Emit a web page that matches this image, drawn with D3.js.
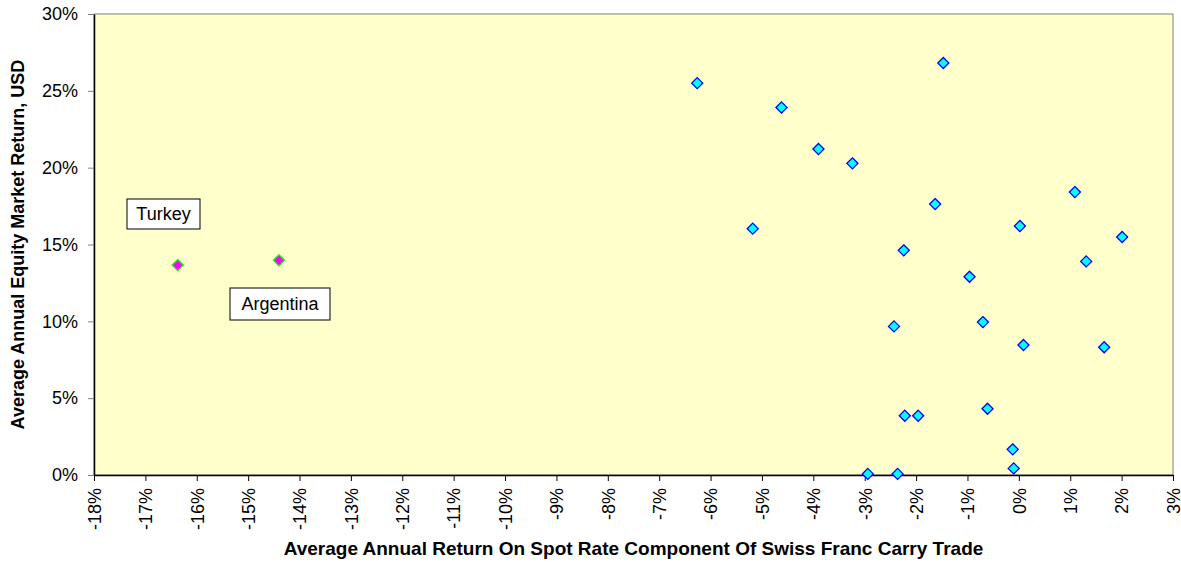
<!DOCTYPE html>
<html>
<head>
<meta charset="utf-8">
<script src="https://cdn.jsdelivr.net/npm/d3@7"></script>
<style>
  body { margin: 0; background: #ffffff; }
  svg { display: block; }
</style>
</head>
<body>
<div id="chart"></div>
<script>
// ---------- data (percent) ----------
const otherX = [-6.26, -1.47, -4.62, -3.90, -3.24, 1.09, -1.63, -5.18, 0.02, 2.01, -2.24, 1.31,
                -0.96, -2.43, -0.70, 0.09, 1.66, -2.22, -1.96, -0.61, -0.12, -0.10, -2.94, -2.36];
const otherY = [25.50, 26.81, 23.92, 21.21, 20.28, 18.41, 17.63, 16.03, 16.20, 15.49, 14.62, 13.90,
                12.90, 9.67, 9.95, 8.46, 8.31, 3.86, 3.86, 4.31, 1.67, 0.43, 0.07, 0.07];
const highlightNames = ["Turkey", "Argentina"];
const highlightX = [-16.37, -14.40];
const highlightY = [13.66, 13.97];
const xTicks = d3.range(-18, 4, 1);
const yTicks = [0, 5, 10, 15, 20, 25, 30];

const width = 1181, height = 562;
const margin = { top: 14, right: 8, bottom: 87, left: 94 };
const innerW = width - margin.left - margin.right;
const innerH = height - margin.top - margin.bottom;
const font = "Liberation Sans, Arial, sans-serif";

const svg = d3.select("#chart").append("svg")
    .attr("width", width)
    .attr("height", height);

const x = d3.scaleLinear().domain([-18, 3]).range([margin.left, margin.left + innerW]);
const y = d3.scaleLinear().domain([0, 30]).range([margin.top + innerH, margin.top]);

// plot area
svg.append("rect")
    .attr("x", x(-18)).attr("y", y(30))
    .attr("width", x(3) - x(-18)).attr("height", y(0) - y(30))
    .attr("fill", "#ffffcc")
    .attr("stroke", "#808080")
    .attr("stroke-width", 1);

// axes
const xAxis = svg.append("g")
    .attr("transform", `translate(0,${y(0)})`)
    .call(d3.axisBottom(x).tickValues(xTicks).tickSize(6).tickSizeOuter(0)
        .tickFormat(d => d + "%"));
xAxis.select(".domain").attr("stroke", "#000").attr("stroke-width", 1.5);
xAxis.selectAll(".tick line").attr("stroke", "#000");
xAxis.selectAll(".tick text")
    .attr("font-family", font)
    .attr("font-size", 18)
    .attr("fill", "#000")
    .attr("transform", "rotate(-90)")
    .attr("text-anchor", "end")
    .attr("x", -13)
    .attr("y", 0)
    .attr("dy", "0.35em");

const yAxis = svg.append("g")
    .attr("transform", `translate(${x(-18)},0)`)
    .call(d3.axisLeft(y).tickValues(yTicks).tickSize(6).tickSizeOuter(0)
        .tickFormat(d => d + "%"));
yAxis.select(".domain").attr("stroke", "#000").attr("stroke-width", 1.5);
yAxis.selectAll(".tick line").attr("stroke", "#808080");
yAxis.selectAll(".tick text")
    .attr("font-family", font)
    .attr("font-size", 18)
    .attr("fill", "#000")
    .attr("x", -16);

// axis titles
svg.append("text")
    .attr("x", (x(-18) + x(3)) / 2)
    .attr("y", 555)
    .attr("text-anchor", "middle")
    .attr("font-family", font)
    .attr("font-size", 19)
    .attr("font-weight", "bold")
    .text("Average Annual Return On Spot Rate Component Of Swiss Franc Carry Trade");

svg.append("text")
    .attr("transform", `translate(24,${(y(0) + y(30)) / 2}) rotate(-90)`)
    .attr("text-anchor", "middle")
    .attr("font-family", font)
    .attr("font-size", 18)
    .attr("font-weight", "bold")
    .text("Average Annual Equity Market Return, USD");

// markers
const diamond = d3.symbol().type(d3.symbolDiamond2).size(78);

svg.append("g").selectAll("path")
    .data(otherX.map((v, i) => [v, otherY[i]]))
    .join("path")
    .attr("d", diamond)
    .attr("transform", d => `translate(${x(d[0])},${y(d[1])})`)
    .attr("fill", "#00ffff")
    .attr("stroke", "#0000ff")
    .attr("stroke-width", 1.3);

svg.append("g").selectAll("path")
    .data(highlightX.map((v, i) => [v, highlightY[i]]))
    .join("path")
    .attr("d", diamond)
    .attr("transform", d => `translate(${x(d[0])},${y(d[1])})`)
    .attr("fill", "#ff00ff")
    .attr("stroke", "#00ff00")
    .attr("stroke-width", 1.3);

// label boxes
const labelBoxes = [
    { name: highlightNames[0], x0: 127, y0: 199, w: 73, h: 30 },
    { name: highlightNames[1], x0: 230, y0: 288, w: 100, h: 32 }
];
labelBoxes.forEach(b => {
    svg.append("rect")
        .attr("x", b.x0).attr("y", b.y0)
        .attr("width", b.w).attr("height", b.h)
        .attr("fill", "#ffffff")
        .attr("stroke", "#000")
        .attr("stroke-width", 1);
    svg.append("text")
        .attr("x", b.x0 + b.w / 2)
        .attr("y", b.y0 + b.h / 2)
        .attr("dy", "0.35em")
        .attr("text-anchor", "middle")
        .attr("font-family", font)
        .attr("font-size", 18)
        .text(b.name);
});
</script>
</body>
</html>
